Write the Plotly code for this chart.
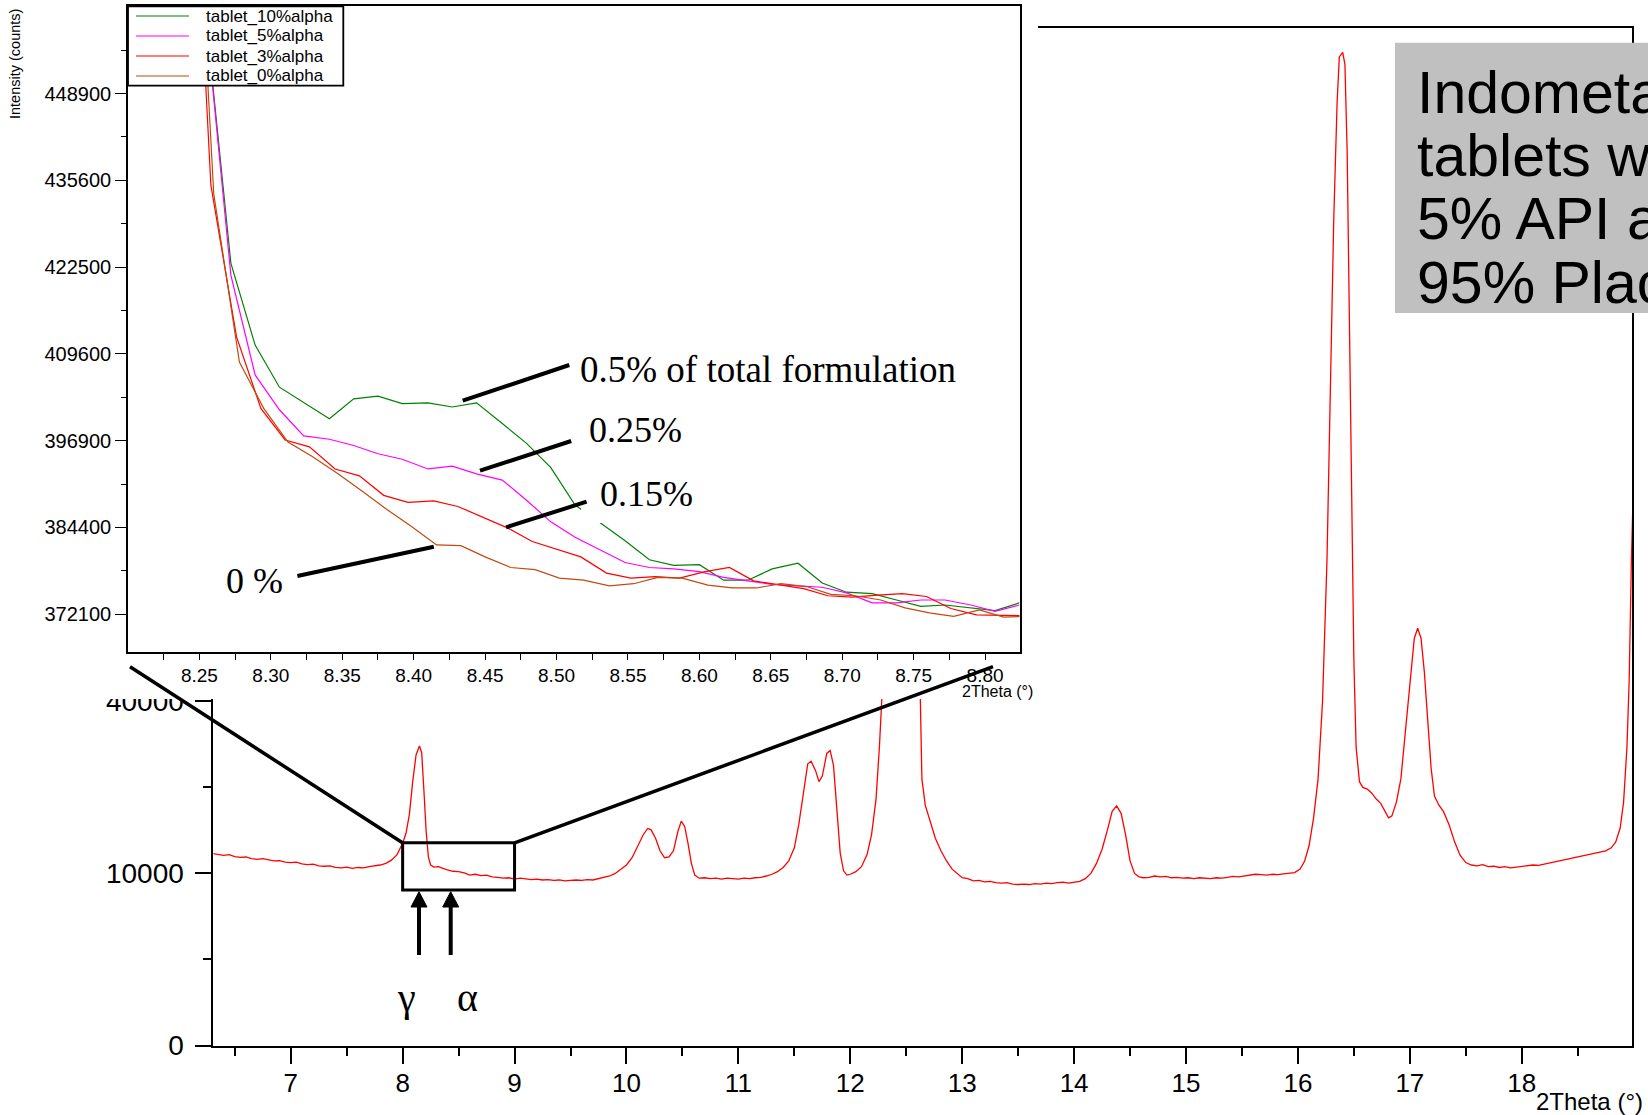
import numpy as np
import plotly.graph_objects as go

# ---------------- data: main XRD pattern (counts, sqrt intensity axis) ----------------
main_2theta = [
    6.30, 6.35, 6.40, 6.45, 6.50, 6.55, 6.60, 6.65, 6.70, 6.75,
    6.80, 6.85, 6.90, 6.95, 7.00, 7.05, 7.10, 7.15, 7.20, 7.25,
    7.30, 7.35, 7.40, 7.45, 7.50, 7.55, 7.60, 7.65, 7.70, 7.75,
    7.80, 7.85, 7.90, 7.95, 8.00, 8.03, 8.06, 8.09, 8.12, 8.15,
    8.17, 8.19, 8.21, 8.23, 8.25, 8.28, 8.32, 8.36, 8.40, 8.45,
    8.50, 8.55, 8.60, 8.65, 8.70, 8.75, 8.80, 8.85, 8.90, 8.95,
    9.00, 9.05, 9.10, 9.15, 9.20, 9.25, 9.30, 9.35, 9.40, 9.45,
    9.50, 9.55, 9.60, 9.65, 9.70, 9.75, 9.80, 9.85, 9.90, 9.95,
    10.00, 10.05, 10.10, 10.15, 10.19, 10.22, 10.26, 10.30, 10.34, 10.38,
    10.42, 10.46, 10.49, 10.52, 10.55, 10.58, 10.61, 10.65, 10.70, 10.75,
    10.80, 10.85, 10.90, 10.95, 11.00, 11.05, 11.10, 11.15, 11.20, 11.25,
    11.30, 11.35, 11.40, 11.45, 11.50, 11.54, 11.58, 11.62, 11.65, 11.69,
    11.72, 11.75, 11.79, 11.82, 11.85, 11.88, 11.91, 11.94, 11.97, 12.00,
    12.05, 12.10, 12.15, 12.19, 12.23, 12.26, 12.29, 12.33, 12.38, 12.45,
    12.52, 12.57, 12.60, 12.62, 12.64, 12.67, 12.71, 12.76, 12.81, 12.86,
    12.91, 12.96, 13.00, 13.05, 13.10, 13.15, 13.20, 13.25, 13.30, 13.35,
    13.40, 13.45, 13.50, 13.55, 13.60, 13.65, 13.70, 13.75, 13.80, 13.85,
    13.90, 13.95, 14.00, 14.05, 14.10, 14.15, 14.20, 14.25, 14.30, 14.34,
    14.38, 14.42, 14.46, 14.50, 14.54, 14.58, 14.62, 14.67, 14.72, 14.77,
    14.82, 14.87, 14.92, 14.97, 15.02, 15.07, 15.12, 15.17, 15.22, 15.27,
    15.32, 15.37, 15.42, 15.47, 15.52, 15.57, 15.62, 15.67, 15.72, 15.77,
    15.82, 15.87, 15.92, 15.97, 16.02, 16.06, 16.10, 16.14, 16.18, 16.22,
    16.26, 16.29, 16.32, 16.35, 16.37, 16.40, 16.42, 16.44, 16.46, 16.48,
    16.50, 16.52, 16.55, 16.58, 16.62, 16.66, 16.70, 16.74, 16.78, 16.81,
    16.84, 16.88, 16.92, 16.96, 17.00, 17.04, 17.07, 17.10, 17.13, 17.16,
    17.19, 17.22, 17.26, 17.30, 17.35, 17.40, 17.45, 17.50, 17.55, 17.60,
    17.65, 17.70, 17.75, 17.80, 17.85, 17.90, 17.95, 18.00, 18.05, 18.10,
    18.15, 18.20, 18.25, 18.30, 18.35, 18.40, 18.45, 18.50, 18.55, 18.60,
    18.65, 18.70, 18.75, 18.80, 18.84, 18.88, 18.91, 18.94, 18.96, 18.98,
    19.00,
]
main_counts = [
    12450, 12350, 12200, 12300, 12050, 11950, 12000, 11800, 11700, 11800,
    11600, 11500, 11550, 11350, 11300, 11350, 11150, 11050, 11100, 10900,
    10850, 10900, 10700, 10650, 10750, 10600, 10700, 10650, 10800, 10900,
    11000, 11200, 11600, 12300, 13800, 15200, 18000, 23500, 28500, 30300,
    29000, 22000, 15500, 12000, 11000, 10750, 10800, 10600, 10400, 10250,
    10200, 10050, 9800, 9900, 9750, 9800, 9600, 9550, 9450, 9500,
    9350, 9450, 9400, 9300, 9350, 9250, 9300, 9200, 9250, 9150,
    9200, 9250, 9200, 9300, 9250, 9400, 9500, 9700, 10000, 10500,
    11000, 11900, 13300, 15000, 15900, 15700, 14500, 12800, 11900, 12000,
    12800, 15500, 17000, 16200, 13800, 11200, 9800, 9450, 9500, 9400,
    9450, 9350, 9450, 9400, 9350, 9450, 9400, 9500, 9550, 9700,
    9900, 10200, 10700, 11500, 13200, 16500, 21500, 26800, 27300, 25500,
    23500, 24500, 28800, 29400, 26500, 19000, 12500, 10300, 9800, 9900,
    10200, 10800, 12300, 15000, 20500, 30000, 45000, 110000, 190000, 240000,
    220000, 150000, 80000, 42000, 24000, 19500, 17000, 14500, 12800, 11500,
    10500, 9900, 9500, 9400, 9150, 9200, 9050, 9100, 8950, 8900,
    8950, 8800, 8750, 8800, 8750, 8850, 8800, 8900, 8850, 8950,
    9000, 8900, 9000, 9100, 9400, 10000, 11200, 13000, 15800, 18500,
    19400, 18200, 15000, 11500, 10000, 9600, 9500, 9550, 9700, 9600,
    9650, 9500, 9550, 9450, 9500, 9400, 9500, 9450, 9400, 9500,
    9450, 9550, 9650, 9600, 9700, 9750, 9900, 9850, 9800, 9900,
    9850, 9950, 10000, 10100, 10500, 11500, 13500, 17500, 24000, 40000,
    80000, 140000, 230000, 300000, 330000, 333000, 325000, 270000, 180000, 100000,
    50000, 30000, 23500, 22500, 22200, 21500, 20500, 19800, 18500, 17500,
    17800, 20000, 24000, 33000, 45000, 56000, 58800, 56000, 47000, 35000,
    26000, 21000, 19500, 18500, 16500, 14000, 12200, 11300, 11000, 10900,
    11050, 10800, 10850, 10700, 10800, 10650, 10750, 10800, 10900, 11000,
    10950, 11100, 11200, 11350, 11500, 11650, 11800, 12000, 12100, 12300,
    12400, 12600, 12800, 13200, 14000, 16000, 20000, 30000, 45000, 80000,
    110000,
]

# ---------------- data: inset (zoom 8.20-8.82 deg) ----------------
inset_2theta_a = [8.202, 8.220, 8.237, 8.254, 8.272, 8.289, 8.306, 8.323, 8.341, 8.358,
                  8.375, 8.392, 8.410, 8.427, 8.444, 8.462, 8.479, 8.496, 8.513, 8.531,
                  8.548, 8.565, 8.582, 8.600, 8.617, 8.634, 8.651, 8.669, 8.686, 8.703,
                  8.721, 8.738, 8.755, 8.772, 8.790, 8.807, 8.824]
inset_2theta_red = [8.206, 8.224, 8.241, 8.258, 8.276, 8.293, 8.310, 8.327, 8.345, 8.362,
                    8.379, 8.396, 8.414, 8.431, 8.448, 8.466, 8.483, 8.500, 8.517, 8.535,
                    8.552, 8.569, 8.586, 8.604, 8.621, 8.638, 8.655, 8.673, 8.690, 8.707,
                    8.725, 8.742, 8.759, 8.776, 8.794, 8.811, 8.828]
inset_2theta_brown = [8.208, 8.226, 8.243, 8.260, 8.278, 8.295, 8.312, 8.329, 8.347, 8.364,
                      8.381, 8.398, 8.416, 8.433, 8.450, 8.468, 8.485, 8.502, 8.519, 8.537,
                      8.554, 8.571, 8.588, 8.606, 8.623, 8.640, 8.657, 8.675, 8.692, 8.709,
                      8.727, 8.744, 8.761, 8.778, 8.796, 8.813, 8.830]

counts_10alpha = [592900, 555000, 511200, 462000, 423100, 410900, 404700, 402400, 400100, 403000,
                  403400, 402300, 402400, 401800, 402400, 399400, 396500, 393000, 387600, 385000,
                  382500, 379800, 379000, 379100, 376900, 376900, 378500, 379300, 376500, 375200,
                  375000, 374100, 373200, 373400, 373000, 372600, 373700]
counts_5alpha = [593000, 556000, 512000, 462000, 421300, 406500, 401400, 397600, 397100, 396200,
                 395000, 394200, 392800, 393200, 392100, 391200, 388300, 385200, 383000, 381100,
                 379400, 378700, 378500, 378100, 377300, 376800, 376300, 376100, 375900, 375100,
                 373700, 373700, 374100, 374100, 373400, 372500, 373400]
counts_3alpha = [590000, 550000, 510000, 434900, 412100, 401600, 397000, 396000, 392800, 391800,
                 389000, 388000, 388200, 387400, 385900, 384300, 382400, 381300, 380200, 377900,
                 377200, 377400, 377200, 378100, 378700, 376800, 376300, 375700, 374700, 374500,
                 374800, 375000, 374600, 372900, 372000, 372000, 371900]
counts_0alpha = [585000, 545000, 505000, 433600, 408400, 401600, 396700, 394600, 392100, 389600,
                 387000, 384600, 381900, 381800, 380200, 378700, 378400, 377200, 376900, 376100,
                 376400, 377300, 377200, 376200, 375800, 375800, 376400, 376000, 374900, 374700,
                 374100, 373000, 372300, 371800, 372700, 371700, 371800]

series_names = ["tablet_10%alpha", "tablet_5%alpha", "tablet_3%alpha", "tablet_0%alpha"]
series_colors = ["#008000", "#FF00FF", "#FF0000", "#C04A10"]

# ---------------- ticks / labels ----------------
main_xticks = [7, 8, 9, 10, 11, 12, 13, 14, 15, 16, 17, 18]
main_xminor = [6.5, 7.5, 8.5, 9.5, 10.5, 11.5, 12.5, 13.5, 14.5, 15.5, 16.5, 17.5, 18.5]
main_ytick_counts = [0, 10000, 40000]
main_yminor_counts = [2500, 22500]
inset_xticks = [8.25, 8.30, 8.35, 8.40, 8.45, 8.50, 8.55, 8.60, 8.65, 8.70, 8.75, 8.80]
inset_xminor = [8.225, 8.275, 8.325, 8.375, 8.425, 8.475, 8.525, 8.575, 8.625, 8.675, 8.725, 8.775]
inset_ytick_counts = [372100, 384400, 396900, 409600, 422500, 435600, 448900]
inset_yminor_counts = [378225, 390625, 403225, 416025, 429025, 442225, 455625]
zoom_box_2theta = [8.0, 9.0]
zoom_box_counts = [8170, 13880]
pointer_labels = ["0.5% of total formulation", "0.25%", "0.15%", "0 %"]
box_lines = ["Indometacin", "tablets with", "5% API and", "95% Placebo"]

# ---------------- helpers (pixel -> paper) ----------------
W, H = 1648, 1115


def fx(p):
    return p / W


def fy(p):
    return 1 - p / H


SANS = "Liberation Sans, Arial, sans-serif"
NARROW = "Liberation Sans Narrow, Arial Narrow, Liberation Sans, Arial, sans-serif"
SERIF = "Liberation Serif, Times New Roman, serif"

fig = go.Figure()

# main pattern (square-root intensity scale)
fig.add_trace(go.Scatter(
    x=main_2theta, y=np.sqrt(np.array(main_counts, dtype=float)),
    mode="lines", line=dict(color="#FF0000", width=1.3),
    xaxis="x", yaxis="y", showlegend=False, hoverinfo="skip"))

# white cover panel behind the inset (empty subplot)
fig.add_trace(go.Scatter(x=[], y=[], xaxis="x2", yaxis="y2", showlegend=False, hoverinfo="skip"))

# inset traces
inset_series = [
    (inset_2theta_a, counts_10alpha),
    (inset_2theta_a, counts_5alpha),
    (inset_2theta_red, counts_3alpha),
    (inset_2theta_brown, counts_0alpha),
]
for (xs, cs), name, col in zip(inset_series, series_names, series_colors):
    fig.add_trace(go.Scatter(
        x=xs, y=np.sqrt(np.array(cs, dtype=float)), name=name,
        mode="lines", line=dict(color=col, width=1.2),
        xaxis="x3", yaxis="y3", showlegend=False, hoverinfo="skip"))

# ---------------- axes ----------------
main_x = dict(
    domain=[fx(213.4), fx(1632.2)], range=[6.309, 18.987], anchor="y", automargin=False,
    showline=True, mirror=True, linecolor="black", linewidth=2,
    showgrid=False, zeroline=False,
    ticks="outside", ticklen=16, tickwidth=2, tickcolor="black",
    tickmode="array", tickvals=main_xticks, ticktext=[str(v) for v in main_xticks],
    ticklabelstandoff=-3,
    minor=dict(tickmode="array", tickvals=main_xminor, ticks="outside", ticklen=8,
               tickwidth=2, tickcolor="black", showgrid=False),
    tickfont=dict(family=NARROW, size=26, color="black"),
)
main_y = dict(
    domain=[fy(1045.5), fy(28.4)], range=[0, 591], anchor="x", automargin=False,
    showline=True, mirror=True, linecolor="black", linewidth=2,
    showgrid=False, zeroline=False,
    ticks="outside", ticklen=16, tickwidth=2, tickcolor="black",
    tickmode="array", tickvals=list(np.sqrt(main_ytick_counts)),
    ticktext=[str(v) for v in main_ytick_counts],
    ticklabelstandoff=6,
    minor=dict(tickmode="array", tickvals=list(np.sqrt(main_yminor_counts)), ticks="outside",
               ticklen=8, tickwidth=2, tickcolor="black", showgrid=False),
    tickfont=dict(family=SANS, size=28, color="black"),
)
cover_x = dict(domain=[0, fx(1038)], range=[0, 1], anchor="y2", showline=False, automargin=False,
               showticklabels=False, showgrid=False, zeroline=False, ticks="")
cover_y = dict(domain=[fy(699), 1], range=[0, 1], anchor="x2", showline=False, automargin=False,
               showticklabels=False, showgrid=False, zeroline=False, ticks="")
inset_x = dict(
    domain=[fx(128), fx(1019.5)], range=[8.2, 8.8241], anchor="y3", automargin=False,
    showline=True, mirror=True, linecolor="black", linewidth=1.5,
    showgrid=False, zeroline=False,
    ticks="outside", ticklen=6, tickwidth=1.2, tickcolor="black",
    tickmode="array", tickvals=inset_xticks, ticktext=["%.2f" % v for v in inset_xticks],
    minor=dict(tickmode="array", tickvals=inset_xminor, ticks="outside", ticklen=6,
               tickwidth=1.2, tickcolor="black", showgrid=False),
    tickfont=dict(family=NARROW, size=19, color="black"),
)
inset_y = dict(
    domain=[fy(651.8), fy(6.3)], range=[605.67, 680.05], anchor="x3", automargin=False,
    showline=True, mirror=True, linecolor="black", linewidth=1.5,
    showgrid=False, zeroline=False,
    ticks="outside", ticklen=11, tickwidth=1.2, tickcolor="black",
    tickmode="array", tickvals=list(np.sqrt(inset_ytick_counts)),
    ticktext=[str(v) for v in inset_ytick_counts],
    minor=dict(tickmode="array", tickvals=list(np.sqrt(inset_yminor_counts)), ticks="outside",
               ticklen=5, tickwidth=1.2, tickcolor="black", showgrid=False),
    tickfont=dict(family=SANS, size=20, color="black"),
)

# ---------------- shapes ----------------
shapes = []


def pline(x0, y0, x1, y1, width=4, color="black"):
    return dict(type="line", xref="paper", yref="paper", x0=fx(x0), y0=fy(y0),
                x1=fx(x1), y1=fy(y1), line=dict(color=color, width=width), layer="above")


# zoom box on main pattern (data coordinates)
shapes.append(dict(type="rect", xref="x", yref="y",
                   x0=zoom_box_2theta[0], x1=zoom_box_2theta[1],
                   y0=float(np.sqrt(zoom_box_counts[0])), y1=float(np.sqrt(zoom_box_counts[1])),
                   line=dict(color="black", width=3), fillcolor="rgba(0,0,0,0)", layer="above"))
# connectors to inset
shapes.append(pline(130, 666.7, 402.5, 842.8, width=3.5))
shapes.append(pline(514.6, 842.8, 993, 666.7, width=3.5))
# arrows gamma / alpha
for ax_ in (419, 450.7):
    shapes.append(pline(ax_, 955, ax_, 904, width=4))
    path = "M %f,%f L %f,%f L %f,%f Z" % (fx(ax_ - 8), fy(907), fx(ax_), fy(891.7), fx(ax_ + 8), fy(907))
    shapes.append(dict(type="path", xref="paper", yref="paper", path=path,
                       fillcolor="black", line=dict(color="black", width=1), layer="above"))
# pointer lines for percentage labels
shapes.append(pline(462.7, 400.7, 569.3, 365))
shapes.append(pline(480, 470.7, 571.2, 441))
shapes.append(pline(506.1, 527.3, 586.6, 501.7))
shapes.append(pline(297.4, 576, 433.8, 546.7))
# small white break in green trace under the 0.15% label
shapes.append(dict(type="rect", xref="paper", yref="paper", x0=fx(581), x1=fx(603),
                   y0=fy(523), y1=fy(507), fillcolor="white", line=dict(width=0), layer="above"))
# legend box
shapes.append(dict(type="rect", xref="paper", yref="paper", x0=fx(128), x1=fx(343.3),
                   y0=fy(85.7), y1=fy(6.3), fillcolor="white",
                   line=dict(color="black", width=1.8), layer="above"))
legend_rows = [16, 36, 56, 76]
for ry, col in zip(legend_rows, series_colors):
    shapes.append(pline(136, ry, 189, ry, width=1.2, color=col))
# grey text box (top right)
shapes.append(dict(type="rect", xref="paper", yref="paper", x0=fx(1395), x1=1.02,
                   y0=fy(313), y1=fy(42.7), fillcolor="#C0C0C0", line=dict(width=0), layer="above"))

# ---------------- annotations ----------------
ann = []


def text(x, y, s, size, family=SANS, xanchor="left", yanchor="middle", angle=0):
    return dict(xref="paper", yref="paper", x=fx(x), y=fy(y), text=s, showarrow=False,
                xanchor=xanchor, yanchor=yanchor, textangle=angle,
                font=dict(family=family, size=size, color="black"))


label_pos = [(578, 369), (587, 430), (598, 494), (224, 581)]
label_size = [37, 36, 36, 36]
for (lx, ly), s, sz in zip(label_pos, pointer_labels, label_size):
    ann.append(text(lx, ly, s, sz, family=SERIF))
ann.append(text(406.7, 997, "γ", 40, family=SERIF, xanchor="center"))
ann.append(text(467.3, 997, "α", 40, family=SERIF, xanchor="center"))
for ry, s in zip(legend_rows, series_names):
    ann.append(text(204, ry, s, 17))
for ly, s in zip([92.5, 156, 219.5, 283], box_lines):
    ann.append(text(1415, ly, s, 59))
ann.append(text(1645, 1101, "2Theta (°)", 24, family=NARROW, xanchor="right"))
ann.append(text(1035, 691, "2Theta (°)", 16, family=NARROW, xanchor="right"))
ann.append(text(15, 64, "Intensity (counts)", 14.5, xanchor="center", angle=-90))

fig.update_layout(
    template="none",
    width=W, height=H, autosize=False,
    margin=dict(l=0, r=0, t=0, b=0, pad=0),
    paper_bgcolor="white", plot_bgcolor="white",
    showlegend=False,
    xaxis=main_x, yaxis=main_y,
    xaxis2=cover_x, yaxis2=cover_y,
    xaxis3=inset_x, yaxis3=inset_y,
    shapes=shapes, annotations=ann,
)

fig.write_html("out.html", config={"displayModeBar": False})
